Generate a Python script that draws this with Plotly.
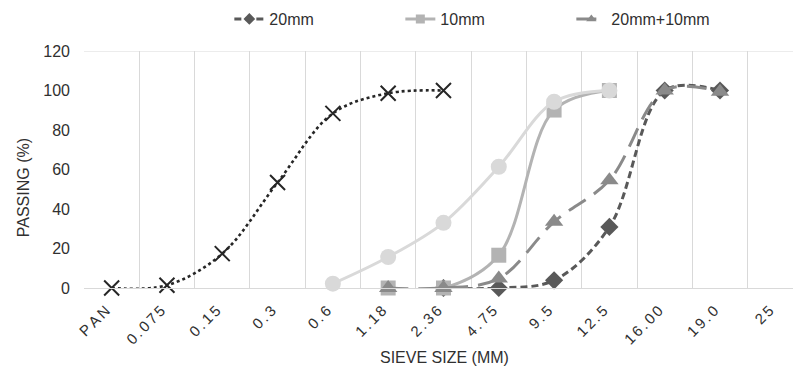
import plotly.graph_objects as go

SIEVE = ["PAN", "0.075", "0.15", "0.3", "0.6", "1.18", "2.36", "4.75", "9.5", "12.5", "16.00", "19.0", "25"]

LOWER = [0, 1.4, 17.4, 53.4, 88.4, 98.6, 100, None, None, None, None, None, None]
UPPER = [None, None, None, None, 2.2, 15.7, 33, 61.4, 94.3, 100, None, None, None]
MM20 = [None, None, None, None, None, None, 0, 0, 3.9, 30.9, 100, 100, None]
MM10 = [None, None, None, None, None, 0, 0, 16.6, 90.1, 100, None, None, None]
BLEND = [None, None, None, None, None, 0, 0, 4.8, 33.5, 54.6, 100, 99.4, None]

xlab = ["\u2006".join(s) for s in SIEVE]
TXT = "#303030"
FONT = "Liberation Sans, Arial, sans-serif"
FS = 16

STY = {
    "20mm": dict(line=dict(color="#595959", width=3, dash="7px,4px", shape="spline"),
                 sym="diamond", msize=14, color="#595959"),
    "10mm": dict(line=dict(color="#B3B3B3", width=3, shape="spline"),
                 sym="square", msize=15, color="#B3B3B3"),
    "20mm+10mm": dict(line=dict(color="#8A8A8A", width=3, dash="20px,10px", shape="spline"),
                      sym="triangle-up", msize=16, color="#8A8A8A"),
}

fig = go.Figure()
fig.add_trace(go.Scatter(
    x=xlab, y=LOWER, name="lower", showlegend=False, mode="lines+markers",
    line=dict(color="#262626", width=2.6, dash="dot", shape="spline"),
    marker=dict(symbol="x-thin", size=15, line=dict(color="#262626", width=2)),
    cliponaxis=False))


def add_series(name, y):
    s = STY[name]
    fig.add_trace(go.Scatter(
        x=xlab, y=y, name=name, showlegend=False, mode="lines+markers",
        line=s["line"], marker=dict(symbol=s["sym"], size=s["msize"], color=s["color"]),
        cliponaxis=False))


add_series("20mm", MM20)
add_series("10mm", MM10)
fig.add_trace(go.Scatter(
    x=xlab, y=UPPER, name="upper", showlegend=False, mode="lines+markers",
    line=dict(color="#D9D9D9", width=3, shape="spline"),
    marker=dict(symbol="circle", size=16, color="#D9D9D9"),
    cliponaxis=False))
add_series("20mm+10mm", BLEND)

# legend entries (smaller symbols, like the reference legend)
for name in ["20mm", "10mm", "20mm+10mm"]:
    s = STY[name]
    fig.add_trace(go.Scatter(
        x=[None], y=[None], name=name, mode="lines+markers",
        line=dict(color=s["color"], width=3, dash=s["line"].get("dash", "solid")),
        marker=dict(symbol=s["sym"], size=9, color=s["color"])))

fig.update_layout(
    width=793, height=367,
    margin=dict(l=84, r=0, t=51, b=79, autoexpand=False),
    paper_bgcolor="white", plot_bgcolor="white",
    font=dict(family=FONT, size=FS, color=TXT),
    legend=dict(orientation="h", x=0.205, xanchor="left", y=1.135, yanchor="middle",
                entrywidth=126, entrywidthmode="pixels",
                font=dict(size=FS, color=TXT)),
    xaxis=dict(type="category", categoryorder="array", categoryarray=xlab,
               range=[-0.5, 12.32], tickson="boundaries", showgrid=True,
               gridcolor="#D9D9D9", gridwidth=1, showline=True, linecolor="#D9D9D9",
               linewidth=1, ticks="", tickangle=-45, tickfont=dict(size=15, color=TXT),
               zeroline=False, automargin=False, ticklabelstandoff=7, ticklabelshift=-6),
    yaxis=dict(range=[0, 120], dtick=20, showgrid=False, showline=False, zeroline=False,
               ticks="", tickfont=dict(size=FS, color=TXT), ticklabelstandoff=13,
               automargin=False),
    shapes=[dict(type="line", xref="paper", yref="y", x0=0, x1=1, y0=120, y1=120,
                 line=dict(color="#D9D9D9", width=1), layer="below")],
    annotations=[
        dict(text="SIEVE SIZE (MM)", xref="paper", yref="paper", x=0.508, y=-0.293,
             showarrow=False, font=dict(size=FS, color=TXT), xanchor="center", yanchor="middle"),
        dict(text="PASSING (%)", xref="paper", yref="paper", x=-0.086, y=0.421,
             showarrow=False, textangle=-90, font=dict(size=FS, color=TXT),
             xanchor="center", yanchor="middle"),
    ],
)

fig.write_html("out.html")
